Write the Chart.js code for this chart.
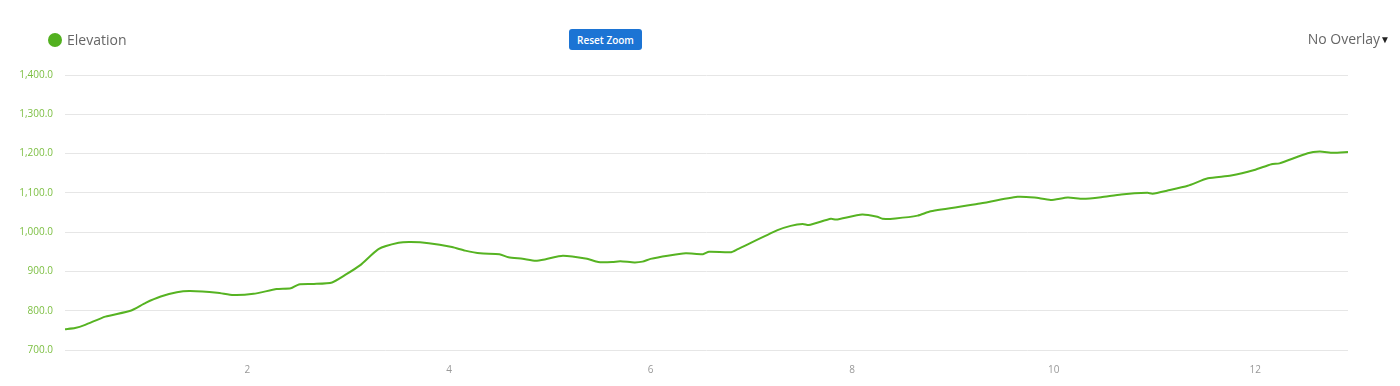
<!DOCTYPE html>
<html><head><meta charset="utf-8">
<script src="https://cdn.jsdelivr.net/npm/chart.js@4.4.1/dist/chart.umd.min.js"></script>
<style>
html,body{margin:0;padding:0;background:#fff;overflow:hidden;font-family:"Open Sans",sans-serif;}
#wrap{position:relative;width:1400px;height:386px;}
#c{position:absolute;left:0;top:0;}
#legend{position:absolute;left:48px;top:30px;font-size:14px;color:#666;display:flex;align-items:center;}
#legend .dot{width:14px;height:14px;border-radius:50%;background:#52b01f;margin-right:5px;}
#reset{position:absolute;left:569px;top:29px;width:73px;height:21px;background:#1c74d4;border-radius:3px;color:#fff;font-size:10px;font-weight:600;display:flex;align-items:center;justify-content:center;}
#overlay{position:absolute;right:10px;top:29px;font-size:14px;color:#666;}
#overlay span{color:#222;font-size:10px;vertical-align:1px;}
</style></head>
<body><div id="wrap">
<canvas id="c" width="1400" height="386"></canvas>
<div id="legend"><div class="dot"></div>Elevation</div>
<div id="reset">Reset Zoom</div>
<div id="overlay">No Overlay<span>▼</span></div>
</div>
<script>
const distanceKm = [0.19,0.29,0.39,0.59,0.84,0.99,1.14,1.30,1.43,1.70,1.86,2.06,2.29,2.43,2.51,2.66,2.84,2.97,3.12,3.30,3.50,3.62,3.80,4.03,4.16,4.31,4.50,4.59,4.73,4.86,4.96,5.13,5.37,5.48,5.62,5.70,5.84,5.92,6.00,6.17,6.35,6.52,6.58,6.80,6.86,7.26,7.39,7.51,7.57,7.79,7.84,8.10,8.25,8.30,8.43,8.65,8.78,9.25,9.64,9.81,9.97,10.14,10.29,10.47,10.67,10.93,10.98,11.13,11.33,11.53,11.76,11.99,12.16,12.24,12.52,12.64,12.77,12.92];
const elevation = [753,756,764,785,800,820,836,847,850,846,840,843,855,857,867,868,872,891,916,957,973,975,972,962,953,946,944,936,932,927,931,940,932,924,924,926,923,925,932,940,946,944,950,949,956,1005,1016,1021,1018,1034,1032,1045,1039,1034,1035,1042,1053,1072,1090,1088,1082,1088,1085,1089,1096,1100,1098,1106,1118,1137,1144,1158,1173,1175,1201,1205,1202,1204];
const xTicks = [2,4,6,8,10,12];
const yMin = 700, yMax = 1400, yStep = 100;

const points = distanceKm.map((d,i)=>({x:d,y:elevation[i]}));
new Chart(document.getElementById('c'), {
  type:'line',
  data:{datasets:[{label:'Elevation',data:points,borderColor:'#56b322',borderWidth:2,pointRadius:0,tension:0.2,fill:false}]},
  options:{
    responsive:false,animation:false,
    layout:{padding:{left:0,right:52,top:75,bottom:0}},
    plugins:{legend:{display:false},tooltip:{enabled:false}},
    scales:{
      x:{type:'linear',min:distanceKm[0],max:distanceKm[distanceKm.length-1],
        grid:{display:false},border:{display:false},
        afterBuildTicks:(s)=>{s.ticks=xTicks.map(v=>({value:v}));},
        afterFit:(s)=>{s.height=36;},
        ticks:{color:'#999',font:{family:'Open Sans',size:10},padding:6,maxRotation:0,autoSkip:false}},
      y:{min:yMin,max:yMax,
        grid:{color:'#e6e6e6',drawTicks:false,lineWidth:1},border:{display:false},
        afterFit:(s)=>{s.width=65;},
        ticks:{stepSize:yStep,color:'#7cbf42',font:{family:'Open Sans',size:10},padding:12,
          callback:(v)=>v.toLocaleString('en-US',{minimumFractionDigits:1,maximumFractionDigits:1})}}
    }
  }
});
</script>
</body></html>
